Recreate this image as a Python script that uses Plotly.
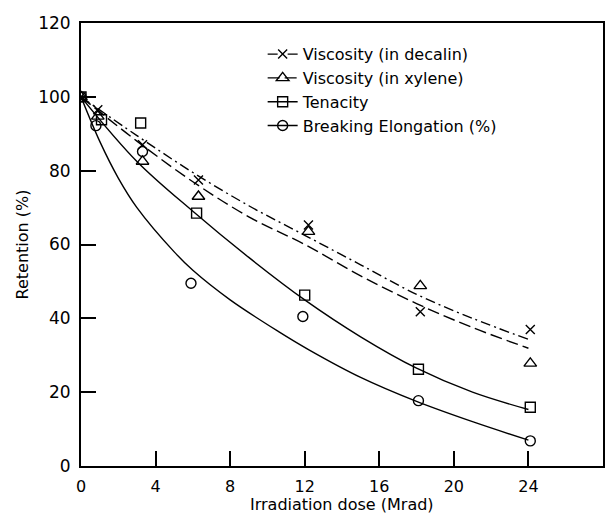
import plotly.graph_objects as go

# ---- measured points ----
dose_pts = [0, 0.9, 3.3, 6.3, 12.2, 18.2, 24.1]
decalin_pts = [100, 96.5, 87, 77.5, 65.3, 41.8, 37]
xylene_pts = [100, 94.7, 82.5, 73, 63.5, 48.8, 27.8]
tenacity_dose = [0, 1.1, 3.2, 6.2, 12.0, 18.1, 24.1]
tenacity_pts = [100, 93.8, 92.9, 68.5, 46.3, 26.2, 15.9]
elong_dose = [0, 0.8, 3.3, 5.9, 11.9, 18.1, 24.1]
elong_pts = [100, 92.2, 85.2, 49.5, 40.5, 17.7, 6.8]

# ---- fitted curves ----
curve_dose = [0, 3, 6, 9, 12, 15, 18, 21, 24]
decalin_fit = [100, 89.5, 79.5, 70.5, 62.5, 54.5, 46.5, 40, 34.3]
xylene_fit = [100, 88, 77, 67.5, 60, 51.5, 44, 37.5, 31.9]
tenacity_fit = [100, 82.5, 69, 56.5, 45, 35, 26.5, 20, 15.3]
elong_curve_dose = [0, 1, 2, 3, 5, 6, 8, 10.6, 12.25, 15, 18, 21, 24]
elong_fit = [100, 88, 78, 70, 58, 53, 45, 36.4, 31.4, 24, 17.5, 12, 7]

x_ticks = [0, 4, 8, 12, 16, 20, 24, 28]
y_ticks = [0, 20, 40, 60, 80, 100, 120]

names = ["Viscosity (in decalin)", "Viscosity (in xylene)", "Tenacity",
         "Breaking Elongation (%)"]
x_title = "Irradiation dose (Mrad)"
y_title = "Retention (%)"

FONT = "DejaVu Sans"
BLACK = "black"

series = [
    (curve_dose, decalin_fit, dose_pts, decalin_pts, "10px,4px,2px,4px", "x-thin-open", 9),
    (curve_dose, xylene_fit, dose_pts, xylene_pts, "12px,5px", "triangle-up-open", 11),
    (curve_dose, tenacity_fit, tenacity_dose, tenacity_pts, "solid", "square-open", 10),
    (elong_curve_dose, elong_fit, elong_dose, elong_pts, "solid", "circle-open", 10),
]

fig = go.Figure()
for (cx, cy, px, py, dash, sym, ms), name in zip(series, names):
    fig.add_trace(go.Scatter(x=cx, y=cy, mode="lines", line=dict(color=BLACK, width=1.4, dash=dash, shape="spline"),
                             showlegend=False, hoverinfo="skip"))
    fig.add_trace(go.Scatter(x=px, y=py, mode="markers",
                             marker=dict(symbol=sym, size=ms, color=BLACK, line=dict(color=BLACK, width=1.4)),
                             showlegend=False))
    fig.add_trace(go.Scatter(x=[None], y=[None], mode="lines+markers", name=name,
                             line=dict(color=BLACK, width=1.4, dash=dash),
                             marker=dict(symbol=sym, size=ms, color=BLACK, line=dict(color=BLACK, width=1.4))))

axis_common = dict(
    showgrid=False, zeroline=False, showline=True, linecolor=BLACK, linewidth=2,
    mirror=True, ticks="inside", ticklen=15, tickwidth=1.5, tickcolor=BLACK,
    automargin=False,
)

fig.update_xaxes(range=[0, 28], tickvals=x_ticks, ticktext=[str(v) for v in x_ticks],
                 tickfont=dict(family=FONT, size=16, color=BLACK),
                 ticklabelstandoff=5, **axis_common)
fig.update_yaxes(range=[0, 120], tickvals=y_ticks, ticktext=[str(v) for v in y_ticks],
                 tickfont=dict(family=FONT, size=17, color=BLACK),
                 title=dict(text=y_title, font=dict(family=FONT, size=16, color=BLACK), standoff=6),
                 ticklabelstandoff=5, **axis_common)

fig.add_annotation(text=x_title, xref="paper", yref="paper", x=0.5, y=-0.088,
                   xanchor="center", yanchor="middle", showarrow=False,
                   font=dict(family=FONT, size=16, color=BLACK))

fig.update_layout(
    width=609, height=517,
    margin=dict(l=81, r=6, t=23, b=51),
    paper_bgcolor="white", plot_bgcolor="white",
    font=dict(family=FONT, size=16, color=BLACK),
    legend=dict(x=0.348, y=0.968, xanchor="left", yanchor="top", bgcolor="rgba(0,0,0,0)",
                font=dict(family=FONT, size=16, color=BLACK), tracegroupgap=0),
)

fig.write_html("out.html")
